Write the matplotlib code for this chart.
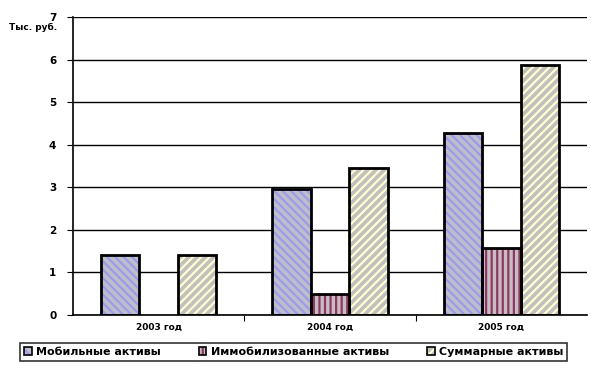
import matplotlib
matplotlib.use("Agg")
import matplotlib.pyplot as plt
import numpy as np
from matplotlib.patches import Patch

years = ["2003 год", "2004 год", "2005 год"]
series_names = ["Мобильные активы", "Иммобилизованные активы", "Суммарные активы"]
mobile = [1.4, 2.95, 4.28]
immobile = [0.0, 0.5, 1.58]
total = [1.4, 3.45, 5.87]

plt.rcParams['hatch.linewidth'] = 1.6

fig = plt.figure(figsize=(5.91, 3.71), dpi=100)
ax = fig.add_axes([0.1235, 0.151, 0.870, 0.803])

x = np.arange(len(years))
w = 0.224
styles = [("#9999FF", "\\\\\\\\"), ("#993366", "|||"), ("#FFFFCC", "////")]
values = [mobile, immobile, total]

for i, (vals, (hc, hatch)) in enumerate(zip(values, styles)):
    pos = x + (i - 1) * w
    for p, v in zip(pos, vals):
        if v <= 0:
            continue
        ax.bar(p, v, w, color="#C0C0C0", edgecolor=hc, hatch=hatch, linewidth=0, zorder=2)
        ax.bar(p, v, w, fill=False, edgecolor="black", linewidth=2, zorder=3)

ax.set_xlim(-0.5, 2.5)
ax.set_ylim(0, 7)
ax.set_yticks(range(0, 8))
ax.yaxis.grid(True, color="black", linewidth=1)
ax.set_axisbelow(True)
for s in ["top", "right"]:
    ax.spines[s].set_visible(False)
ax.spines["left"].set_linewidth(1.2)
ax.spines["bottom"].set_linewidth(1.2)

ax.set_xticks([0.5, 1.5])
ax.set_xticklabels([])
ax.tick_params(axis="x", length=4, direction="out")
ax.tick_params(axis="y", length=4, direction="out", labelsize=7.5, pad=8)
for lab in ax.get_yticklabels():
    lab.set_fontweight("bold")
for xi, name in zip(x, years):
    ax.text(xi, -0.18, name, ha="center", va="top", fontsize=6.5, fontweight="bold")

fig.text(0.015, 0.925, "Тыс. руб.", fontsize=6.5, fontweight="bold", ha="left", va="center")

handles = []
for hc, hatch in styles:
    handles.append((Patch(facecolor="#C0C0C0", edgecolor=hc, hatch=hatch, linewidth=0),
                    Patch(fill=False, edgecolor="black", linewidth=1.2)))
leg = fig.legend(handles, series_names, loc="center", bbox_to_anchor=(0.497, 0.051),
                 ncol=3, frameon=True, fancybox=False, edgecolor="black",
                 prop={"size": 8, "weight": "bold"}, handlelength=0.7, handleheight=0.7,
                 columnspacing=3.4, handletextpad=0.4, borderpad=0.35, borderaxespad=0)
leg.get_frame().set_linewidth(1.2)

fig.savefig("out.png", dpi=100)
